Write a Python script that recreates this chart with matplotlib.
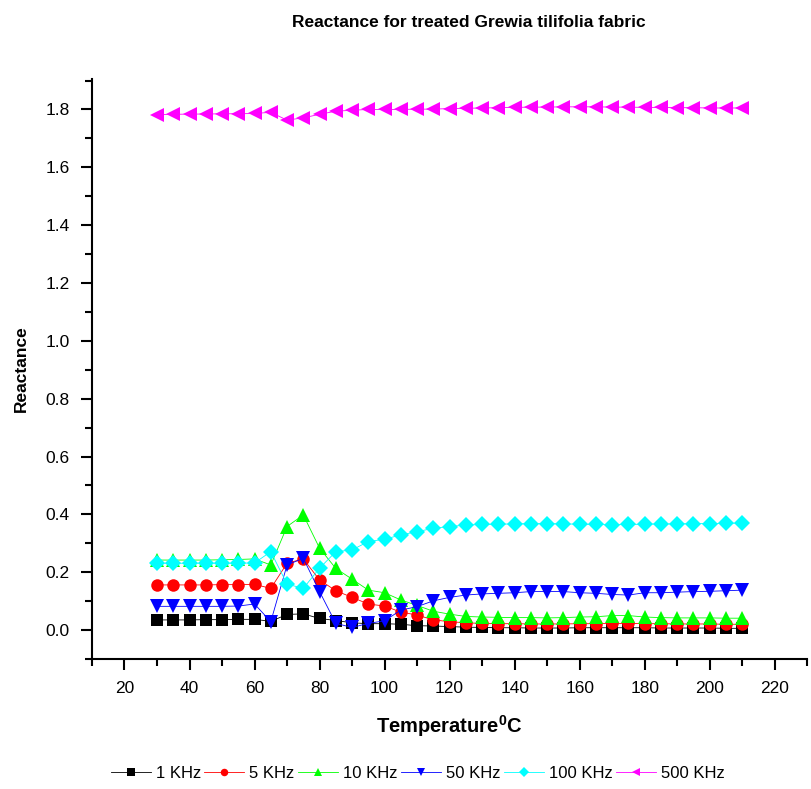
import matplotlib
matplotlib.use('Agg')
import matplotlib.pyplot as plt
from matplotlib.ticker import MultipleLocator

plt.rcParams['font.family'] = ['Liberation Sans', 'DejaVu Sans']
plt.rcParams['mathtext.fontset'] = 'custom'
plt.rcParams['mathtext.bf'] = 'Liberation Sans:bold'
plt.rcParams['mathtext.rm'] = 'Liberation Sans'

# Data
temps = [30, 35, 40, 45, 50, 55, 60, 65, 70, 75, 80, 85, 90, 95, 100, 105, 110, 115, 120,
         125, 130, 135, 140, 145, 150, 155, 160, 165, 170, 175, 180, 185, 190, 195, 200, 205, 210]

khz_1 = [0.035, 0.035, 0.035, 0.036, 0.036, 0.037, 0.037, 0.030, 0.054, 0.056, 0.040, 0.033,
         0.025, 0.022, 0.022, 0.020, 0.015, 0.014, 0.012,
         0.010, 0.009, 0.008, 0.008, 0.007, 0.007, 0.007, 0.008, 0.008, 0.008, 0.008, 0.008,
         0.007, 0.007, 0.007, 0.007, 0.006, 0.006]
khz_5 = [0.156, 0.156, 0.156, 0.156, 0.157, 0.157, 0.158, 0.144, 0.231, 0.246, 0.173, 0.136,
         0.113, 0.090, 0.083, 0.062, 0.052, 0.035, 0.029,
         0.025, 0.023, 0.022, 0.022, 0.021, 0.021, 0.021, 0.022, 0.022, 0.023, 0.023, 0.022,
         0.022, 0.021, 0.021, 0.021, 0.020, 0.020]
khz_10 = [0.242, 0.242, 0.242, 0.242, 0.243, 0.244, 0.246, 0.225, 0.358, 0.398, 0.283, 0.213,
          0.176, 0.138, 0.129, 0.104, 0.085, 0.065, 0.055,
          0.047, 0.045, 0.044, 0.043, 0.043, 0.042, 0.043, 0.045, 0.046, 0.050, 0.050, 0.045,
          0.043, 0.042, 0.042, 0.042, 0.041, 0.041]
khz_50 = [0.082, 0.082, 0.082, 0.082, 0.082, 0.083, 0.090, 0.029, 0.225, 0.248, 0.133, 0.023,
          0.009, 0.023, 0.032, 0.069, 0.081, 0.101, 0.113,
          0.121, 0.125, 0.127, 0.129, 0.133, 0.133, 0.133, 0.129, 0.127, 0.123, 0.121, 0.129,
          0.129, 0.131, 0.133, 0.134, 0.136, 0.138]
khz_100 = [0.231, 0.231, 0.231, 0.231, 0.231, 0.231, 0.232, 0.271, 0.159, 0.144, 0.214, 0.271,
           0.277, 0.306, 0.314, 0.329, 0.340, 0.352, 0.358,
           0.363, 0.365, 0.366, 0.367, 0.368, 0.368, 0.367, 0.366, 0.365, 0.364, 0.365, 0.366,
           0.367, 0.367, 0.368, 0.368, 0.369, 0.370]
khz_500 = [1.782, 1.783, 1.784, 1.784, 1.785, 1.785, 1.786, 1.790, 1.763, 1.771, 1.783, 1.794,
           1.797, 1.800, 1.800, 1.800, 1.801, 1.801, 1.803,
           1.804, 1.805, 1.806, 1.807, 1.808, 1.808, 1.809, 1.809, 1.809, 1.808, 1.808, 1.807,
           1.807, 1.806, 1.806, 1.805, 1.805, 1.805]

series = [
    ('1 KHz', khz_1, 'black', 's', 8.5),
    ('5 KHz', khz_5, 'red', 'o', 9),
    ('10 KHz', khz_10, '#00ff00', '^', 10.5),
    ('50 KHz', khz_50, 'blue', 'v', 10.5),
    ('100 KHz', khz_100, 'cyan', 'D', 8.5),
    ('500 KHz', khz_500, 'magenta', '<', 10.5),
]

fig = plt.figure(figsize=(8.11, 7.89), dpi=100)
ax = fig.add_axes([0.1134, 0.1648, 0.882, 0.735])

for label, vals, col, mk, ms in series:
    ax.plot(temps, vals, color=col, marker=mk, markersize=ms, linewidth=0.6,
            markeredgewidth=0, label=label)

ax.set_xlim(10, 230)
ax.set_ylim(-0.1, 1.905)
ax.xaxis.set_minor_locator(MultipleLocator(10))
ax.yaxis.set_minor_locator(MultipleLocator(0.1))
ax.set_yticks([0.0, 0.2, 0.4, 0.6, 0.8, 1.0, 1.2, 1.4, 1.6, 1.8])
ax.set_xticks([20, 40, 60, 80, 100, 120, 140, 160, 180, 200, 220])
ax.yaxis.set_major_formatter(matplotlib.ticker.FormatStrFormatter('%.1f'))

ax.spines['top'].set_visible(False)
ax.spines['right'].set_visible(False)
ax.spines['left'].set_linewidth(1.5)
ax.spines['bottom'].set_linewidth(1.5)
ax.tick_params(which='major', direction='out', length=8, width=1.5, labelsize=12.5, pad=8)
ax.tick_params(which='minor', direction='out', length=5, width=1.5)

ax.set_ylabel('Reactance', fontsize=12.5, fontweight='bold', labelpad=12)
ax.set_xlabel(r'Temperature$^{\mathbf{0}}$C', fontsize=14.5, fontweight='bold', labelpad=12)

fig.text(0.578, 0.972, 'Reactance for treated Grewia tilifolia fabric',
         ha='center', va='center', fontsize=12.5, fontweight='bold')

fig.legend(loc='center', bbox_to_anchor=(0.515, 0.02), ncol=6, frameon=False,
           fontsize=12, handlelength=2.4, columnspacing=0.2, handletextpad=0.3,
           markerscale=0.6)

fig.savefig('out.png', dpi=100)
